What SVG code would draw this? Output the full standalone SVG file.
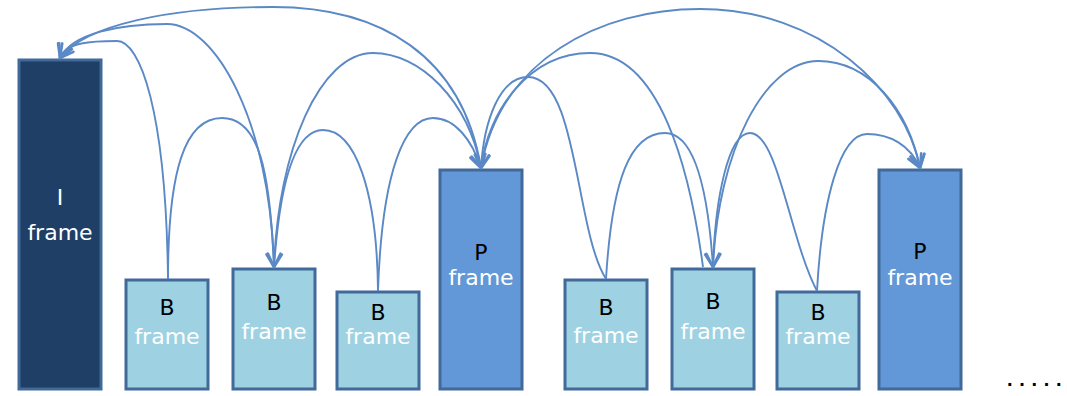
<svg xmlns="http://www.w3.org/2000/svg" width="1067" height="396" viewBox="0 0 1067 396">
  <style>
    .box { stroke: #41699A; stroke-width: 3; }
    .i { fill: #1F3F66; }
    .b { fill: #9ED2E2; }
    .p { fill: #6298D7; }
    .lbl { font-family: "DejaVu Sans", "Liberation Sans", sans-serif; font-size: 22px; text-anchor: middle; }
    .dark { fill: #000000; }
    .light { fill: #FFFFFF; }
    .conn path { fill: none; stroke: #5A89C6; stroke-width: 1.9; }
    .conn path.a { marker-end: url(#arr); }
  </style>
  <defs>
    <marker id="arr" markerUnits="userSpaceOnUse" markerWidth="20" markerHeight="20" viewBox="-16 -10 20 20" refX="0" refY="0" orient="auto">
      <path d="M-13,-7 L0,0 L-13,7" fill="none" stroke="#5A89C6" stroke-width="2.6" stroke-linejoin="round" stroke-linecap="round"/>
    </marker>
  </defs>

  <g id="frame-I">
    <rect class="box i" x="19" y="60" width="82" height="329"/>
    <text class="lbl light" x="60" y="205">I</text>
    <text class="lbl light" x="60" y="240">frame</text>
  </g>
  <g id="frame-B1">
    <rect class="box b" x="126" y="280" width="82" height="109"/>
    <text class="lbl dark" x="167" y="315">B</text>
    <text class="lbl light" x="167" y="344">frame</text>
  </g>
  <g id="frame-B2">
    <rect class="box b" x="233" y="269" width="82" height="120"/>
    <text class="lbl dark" x="274" y="310">B</text>
    <text class="lbl light" x="274" y="339">frame</text>
  </g>
  <g id="frame-B3">
    <rect class="box b" x="337" y="292" width="82" height="97"/>
    <text class="lbl dark" x="378" y="320">B</text>
    <text class="lbl light" x="378" y="344">frame</text>
  </g>
  <g id="frame-P1">
    <rect class="box p" x="440" y="170" width="82" height="219"/>
    <text class="lbl dark" x="481" y="260">P</text>
    <text class="lbl light" x="481" y="285">frame</text>
  </g>
  <g id="frame-B4">
    <rect class="box b" x="565" y="280" width="82" height="109"/>
    <text class="lbl dark" x="606" y="315">B</text>
    <text class="lbl light" x="606" y="343">frame</text>
  </g>
  <g id="frame-B5">
    <rect class="box b" x="672" y="269" width="82" height="120"/>
    <text class="lbl dark" x="713" y="309">B</text>
    <text class="lbl light" x="713" y="339">frame</text>
  </g>
  <g id="frame-B6">
    <rect class="box b" x="777" y="292" width="82" height="97"/>
    <text class="lbl dark" x="818" y="320">B</text>
    <text class="lbl light" x="818" y="344">frame</text>
  </g>
  <g id="frame-P2">
    <rect class="box p" x="879" y="170" width="82" height="219"/>
    <text class="lbl dark" x="920" y="259">P</text>
    <text class="lbl light" x="920" y="285">frame</text>
  </g>

  <g id="connectors" class="conn">
    <!-- P1 -> I -->
    <path class="a" d="M481,168 C462,55 380,7 273,7 C170,7 85,25 60,58"/>
    <!-- B2 -> I -->
    <path class="a" d="M274,267 C270,120 215,24 167,24 C120,24 72,33 60,58"/>
    <!-- B1 -> I -->
    <path class="a" d="M168,279 C166,110 140,41 117,41 C92,41 66,42 60,58"/>
    <!-- B1 -> B2 -->
    <path class="a" d="M168,279 C168,170 185,118 222,118 C259,118 270,170 274,267"/>
    <!-- B3 -> B2 -->
    <path class="a" d="M378,291 C377,190 355,130 323,130 C295,130 280,180 274,267"/>
    <!-- B2 -> P1 -->
    <path class="a" d="M274,267 C278,150 320,53 373,53 C420,53 468,100 481,168"/>
    <!-- B3 -> P1 -->
    <path class="a" d="M378,291 C382,170 405,118 433,118 C455,118 472,140 481,168"/>
    <!-- B4 -> P1 -->
    <path class="a" d="M606,279 C575,230 578,77 528,77 C500,77 484,120 481,168"/>
    <!-- B5 -> P1 -->
    <path class="a" d="M703,267 C690,170 660,53 590,53 C530,53 488,110 481,168"/>
    <!-- P1 -> P2 -->
    <path class="a" d="M481,168 C500,60 600,9 700,9 C820,9 905,90 920,168"/>
    <!-- B4 -> B5 -->
    <path class="a" d="M606,279 C612,180 630,133 665,133 C695,133 708,190 713,267"/>
    <!-- B6 -> B5 -->
    <path class="a" d="M817,291 C790,240 778,133 750,133 C728,133 715,200 713,267"/>
    <!-- B5 -> P2 -->
    <path class="a" d="M713,267 C718,150 765,61 818,61 C870,61 908,110 920,168"/>
    <!-- B6 -> P2 -->
    <path class="a" d="M817,291 C822,200 840,134 867,134 C890,134 910,145 920,168"/>
  </g>

  <text x="1007" y="386" dx="0 6.7 6.7 6.7 6.7" font-family="Liberation Sans, sans-serif" font-size="20" font-weight="bold" fill="#000000">.....</text>
</svg>
